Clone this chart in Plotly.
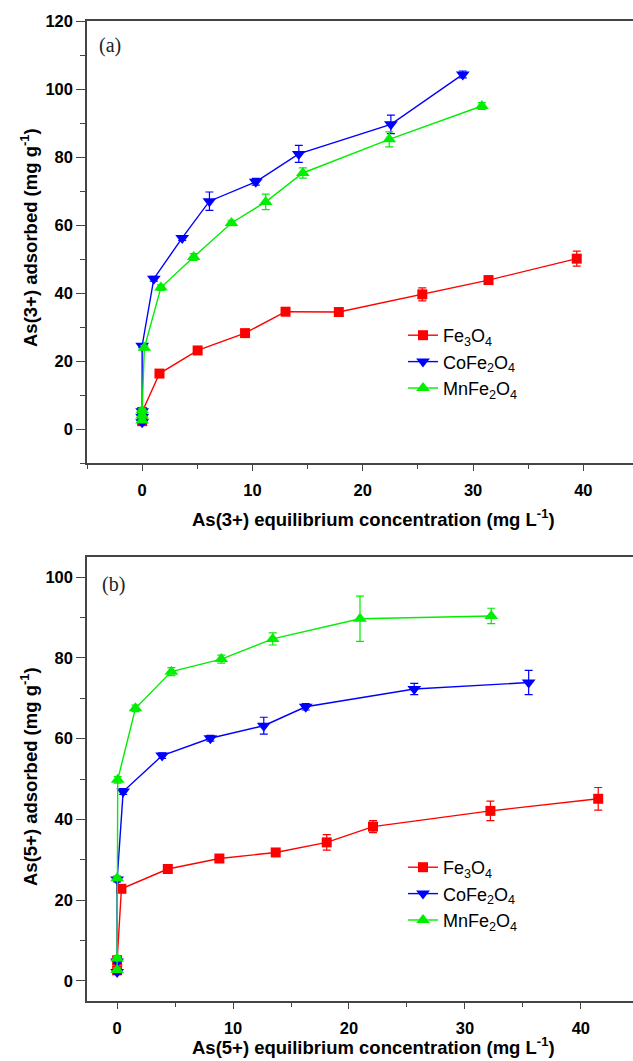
import plotly.graph_objects as go
from plotly.subplots import make_subplots

# ---- Panel (a): As(3+) ----
fe3_x = [0, 0, 0, 1.57, 5.03, 9.33, 13.0, 17.83, 25.4, 31.4, 39.4]
fe3_y = [2.3, 3.6, 5.0, 16.3, 23.1, 28.2, 34.5, 34.4, 39.6, 43.8, 50.1]
fe3_err = [0.5, 0.5, 0.5, 0.7, 0.8, 0.8, 0.8, 0.8, 1.9, 0.9, 2.2]

co3_x = [0, 0, 0, 0, 1.06, 3.63, 6.1, 10.3, 14.2, 22.55, 29.07]
co3_y = [2.0, 3.5, 5.2, 24.5, 44.2, 56.2, 67.0, 72.7, 80.9, 89.6, 104.3]
co3_err = [0.4, 0.4, 0.4, 0.6, 0.7, 0.7, 2.7, 1.0, 2.5, 2.7, 1.0]

mn3_x = [0, 0, 0, 0.2, 1.7, 4.67, 8.1, 11.2, 14.57, 22.4, 30.8]
mn3_y = [2.5, 4.0, 5.5, 23.9, 41.6, 50.6, 60.6, 66.8, 75.3, 85.2, 95.0]
mn3_err = [0.4, 0.4, 0.4, 0.6, 0.8, 1.0, 0.8, 2.3, 1.5, 2.2, 1.0]

# ---- Panel (b): As(5+) ----
fe5_x = [0, 0, 0.37, 4.37, 8.82, 13.68, 18.08, 22.07, 32.2, 41.5]
fe5_y = [2.6, 5.1, 22.8, 27.7, 30.3, 31.8, 34.3, 38.2, 42.1, 45.1]
fe5_err = [0.5, 0.5, 0.7, 0.7, 0.7, 0.7, 1.9, 1.5, 2.4, 2.8]

co5_x = [0, 0, 0, 0.52, 3.88, 8.04, 12.65, 16.27, 25.63, 35.5]
co5_y = [2.2, 4.8, 25.1, 46.9, 55.8, 60.1, 63.2, 67.9, 72.3, 73.9]
co5_err = [0.5, 0.5, 0.6, 0.7, 0.7, 0.7, 2.1, 0.8, 1.4, 3.0]

mn5_x = [0, 0, 0, 0.05, 1.58, 4.68, 8.99, 13.42, 20.95, 32.27]
mn5_y = [2.7, 5.5, 25.4, 49.8, 67.5, 76.6, 79.7, 84.7, 89.7, 90.4]
mn5_err = [0.5, 0.5, 0.6, 0.8, 0.8, 1.0, 1.0, 1.5, 5.6, 1.9]

names = ["Fe<sub>3</sub>O<sub>4</sub>", "CoFe<sub>2</sub>O<sub>4</sub>", "MnFe<sub>2</sub>O<sub>4</sub>"]
colors = ["#ff0000", "#0000ff", "#00ee00"]
symbols = ["square", "triangle-down", "triangle-up"]
sizes = [10, 12, 12]

W, H = 633, 1061
ML, MR, MT, MB = 87, 0, 21, 60
PH = H - MT - MB
PW = W - ML - MR

SANS = "Liberation Sans"


def py(px):
    return (H - MB - px) / PH


def pxx(px):
    return (px - ML) / PW


fig = make_subplots(rows=2, cols=1)
fig.update_layout(
    yaxis=dict(domain=[py(463), py(21)]),
    yaxis2=dict(domain=[py(1001), py(557)]),
)

panels = [
    (1, "legend", [(fe3_x, fe3_y, fe3_err), (co3_x, co3_y, co3_err), (mn3_x, mn3_y, mn3_err)]),
    (2, "legend2", [(fe5_x, fe5_y, fe5_err), (co5_x, co5_y, co5_err), (mn5_x, mn5_y, mn5_err)]),
]
for row, leg, series in panels:
    for i, (xs, ys, es) in enumerate(series):
        fig.add_trace(go.Scatter(
            x=xs, y=ys, mode="lines+markers", name=names[i],
            line=dict(color=colors[i], width=1.4),
            marker=dict(symbol=symbols[i], size=sizes[i], color=colors[i]),
            error_y=dict(type="data", array=es, visible=True, color=colors[i], thickness=1.2, width=4),
            legend=leg,
        ), row=row, col=1)

tickfont = dict(family=SANS, size=16.5, color="black", weight="bold")
axline = dict(showline=True, linecolor="#444", linewidth=1.5, ticks="outside", tickcolor="#444",
              tickwidth=1.2, showgrid=False, zeroline=False, tickfont=tickfont)

fig.update_xaxes(**axline, mirror=True, dtick=10, tick0=0, ticklen=6,
                 minor=dict(dtick=5, tick0=0, ticks="outside", ticklen=4, tickcolor="#444", showgrid=False),
                 ticklabelstandoff=5)
fig.update_yaxes(**axline, dtick=20, tick0=0, ticklen=9,
                 minor=dict(dtick=10, tick0=0, ticks="outside", ticklen=5, tickcolor="#444", showgrid=False))
fig.update_xaxes(range=[-5, 44.5], row=1, col=1)
fig.update_xaxes(range=[-2.6, 44.5], row=2, col=1)
fig.update_yaxes(range=[-10, 120], row=1, col=1)
fig.update_yaxes(range=[-5, 105], row=2, col=1)

titlefont = dict(family=SANS, size=18.5, color="black", weight="bold")
ann = [
    dict(text="As(3+) equilibrium concentration (mg L<sup>-1</sup>)", x=pxx(373), y=py(518)),
    dict(text="As(5+) equilibrium concentration (mg L<sup>-1</sup>)", x=pxx(373), y=py(1046)),
    dict(text="As(3+) adsorbed (mg g<sup>-1</sup>)", x=pxx(29), y=py(238), textangle=-90),
    dict(text="As(5+) adsorbed (mg g<sup>-1</sup>)", x=pxx(29), y=py(777), textangle=-90),
]
for a in ann:
    fig.add_annotation(xref="paper", yref="paper", showarrow=False, xanchor="center", yanchor="middle",
                       font=titlefont, **a)
for lab, x, y in [("(a)", 110, 46), ("(b)", 113, 584)]:
    fig.add_annotation(text=lab, xref="paper", yref="paper", x=pxx(x), y=py(y), showarrow=False,
                       xanchor="center", yanchor="middle",
                       font=dict(family="Liberation Serif", size=20, color="#222"))

legfont = dict(family=SANS, size=18, color="black")
fig.update_layout(
    width=W, height=H,
    margin=dict(l=ML, r=MR, t=MT, b=MB),
    paper_bgcolor="white", plot_bgcolor="white",
    showlegend=True,
    font=dict(family=SANS),
    legend=dict(x=pxx(403), y=py(317), xanchor="left", yanchor="top", font=legfont,
                bgcolor="rgba(0,0,0,0)", tracegroupgap=6, itemwidth=30),
    legend2=dict(x=pxx(403), y=py(849), xanchor="left", yanchor="top", font=legfont,
                 bgcolor="rgba(0,0,0,0)", tracegroupgap=8, itemwidth=30),
)

fig.write_html("out.html")
